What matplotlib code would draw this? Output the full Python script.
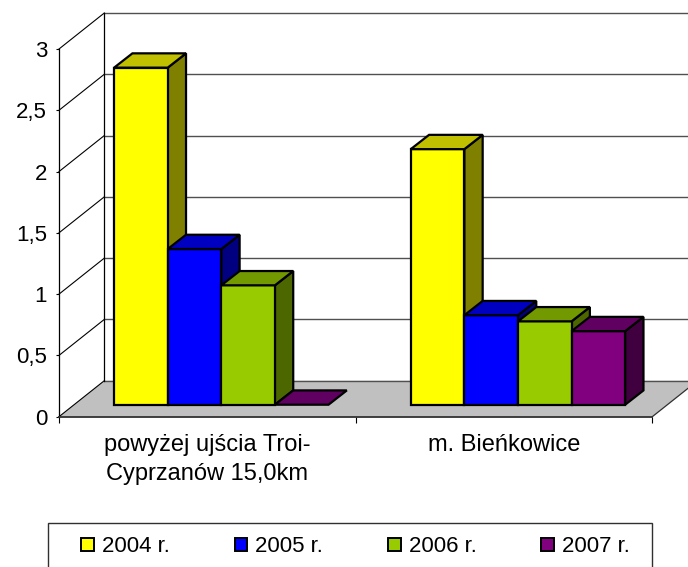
import matplotlib
matplotlib.use("Agg")
import matplotlib.pyplot as plt
from matplotlib.patches import Patch, Polygon, Rectangle

categories = ["powyżej ujścia Troi-\nCyprzanów 15,0km", "m. Bieńkowice"]
years = ["2004 r.", "2005 r.", "2006 r.", "2007 r."]
values_2004 = [2.75, 2.085]
values_2005 = [1.27, 0.73]
values_2006 = [0.974, 0.68]
values_2007 = [0.0, 0.60]
y_ticks = [0, 0.5, 1, 1.5, 2, 2.5, 3]
y_labels = ["0", "0,5", "1", "1,5", "2", "2,5", "3"]

front_colors = ["#FFFF00", "#0000FF", "#99CC00", "#800080"]
top_colors = ["#C0C000", "#0000C0", "#729900", "#600060"]
side_colors = ["#808000", "#000080", "#4C6600", "#400040"]

W, H = 688, 567
X0, X1 = 59.0, 652.3
Y0, Y3 = 416.7, 49.0
PX = (X1 - X0) / 2
PY = (Y0 - Y3) / 3

# depth of the chart box and of the bars, in data units
WALL_DX = 45.3 / PX
WALL_DY = 36.0 / PY
BAR_DX = 18.3 / PX
BAR_DY = 14.3 / PY
BAR_W = 53.6 / PX
SHIFT_X = 14.0 / PX
SHIFT_Y = 12.0 / PY


def draw_poly(ax, pts, color, lw=1.6, zorder=3):
    ax.add_patch(Polygon(pts, closed=True, facecolor=color, edgecolor="black",
                         linewidth=lw, joinstyle="miter", clip_on=False, zorder=zorder))


def draw_bar(ax, left, value, i):
    b = SHIFT_Y
    t = b + value
    r = left + BAR_W
    if value > 0:
        draw_poly(ax, [(r, b), (r + BAR_DX, b + BAR_DY), (r + BAR_DX, t + BAR_DY), (r, t)], side_colors[i])
        draw_poly(ax, [(left, b), (r, b), (r, t), (left, t)], front_colors[i])
    draw_poly(ax, [(left, t), (r, t), (r + BAR_DX, t + BAR_DY), (left + BAR_DX, t + BAR_DY)], top_colors[i])


def draw_box(ax):
    far = 3.0  # wall runs off the right edge of the picture
    draw_poly(ax, [(0, 0), (2, 0), (2 + WALL_DX, WALL_DY), (WALL_DX, WALL_DY)], "#C0C0C0", lw=0, zorder=1)
    for y in y_ticks:
        ax.plot([0, WALL_DX], [y, y + WALL_DY], color="black", lw=0.8, clip_on=False, zorder=2)
        ax.plot([WALL_DX, far], [y + WALL_DY, y + WALL_DY], color="#505050", lw=1.0, clip_on=False, zorder=2)
    ax.plot([WALL_DX, WALL_DX], [WALL_DY, 3 + WALL_DY], color="black", lw=0.9, clip_on=False, zorder=2)
    ax.plot([2, 2 + WALL_DX], [0, WALL_DY], color="#303030", lw=0.9, clip_on=False, zorder=2)


plt.rcParams["font.family"] = "Liberation Sans"
fig = plt.figure(figsize=(W / 100, H / 100), dpi=100)
ax = fig.add_axes([X0 / W, 1 - Y0 / H, (X1 - X0) / W, (Y0 - Y3) / H])
ax.set_xlim(0, 2)
ax.set_ylim(0, 3)
ax.patch.set_visible(False)
for s in ["top", "right"]:
    ax.spines[s].set_visible(False)
ax.spines["left"].set_linewidth(0.9)
ax.spines["bottom"].set_linewidth(1.3)
ax.spines["bottom"].set_color("#303030")
ax.spines["left"].set_zorder(5)
ax.spines["bottom"].set_zorder(5)

draw_box(ax)

series = [values_2004, values_2005, values_2006, values_2007]
for c in range(len(categories)):
    start = c + 0.5 + SHIFT_X - 2 * BAR_W
    for i, vals in enumerate(series):
        draw_bar(ax, start + i * BAR_W, vals[c], i)

ax.set_yticks(y_ticks)
ax.set_yticklabels(y_labels, fontsize=16)
ax.tick_params(axis="y", length=2, width=0.8, pad=6.5)
ax.set_xticks([0, 1, 2])
ax.set_xticklabels([])
ax.tick_params(axis="x", length=4.3, width=0.8)
ax.set_xticks([0.5, 1.5], minor=True)
ax.set_xticklabels(categories, minor=True, fontsize=17)
ax.tick_params(axis="x", which="minor", length=0, pad=12.5)
for label in ax.get_xticklabels(minor=True):
    label.set_linespacing(1.4)

# legend frame runs past the bottom of the picture
fig.add_artist(Rectangle((48.3 / W, -0.05), (652.3 - 48.3) / W, 1 - 523 / H + 0.05,
                         transform=fig.transFigure, fill=False, edgecolor="#303030", linewidth=1.0))
handles = [Patch(facecolor=c, edgecolor="black", linewidth=1.4) for c in front_colors]
fig.legend(handles, years, ncol=4, loc="center", bbox_to_anchor=(355.5 / W, 1 - 547 / H),
           frameon=False, handlelength=0.58, handleheight=0.56, handletextpad=0.36,
           borderaxespad=0, borderpad=0, columnspacing=2.9, fontsize=16)

fig.savefig("out.png", dpi=100)
